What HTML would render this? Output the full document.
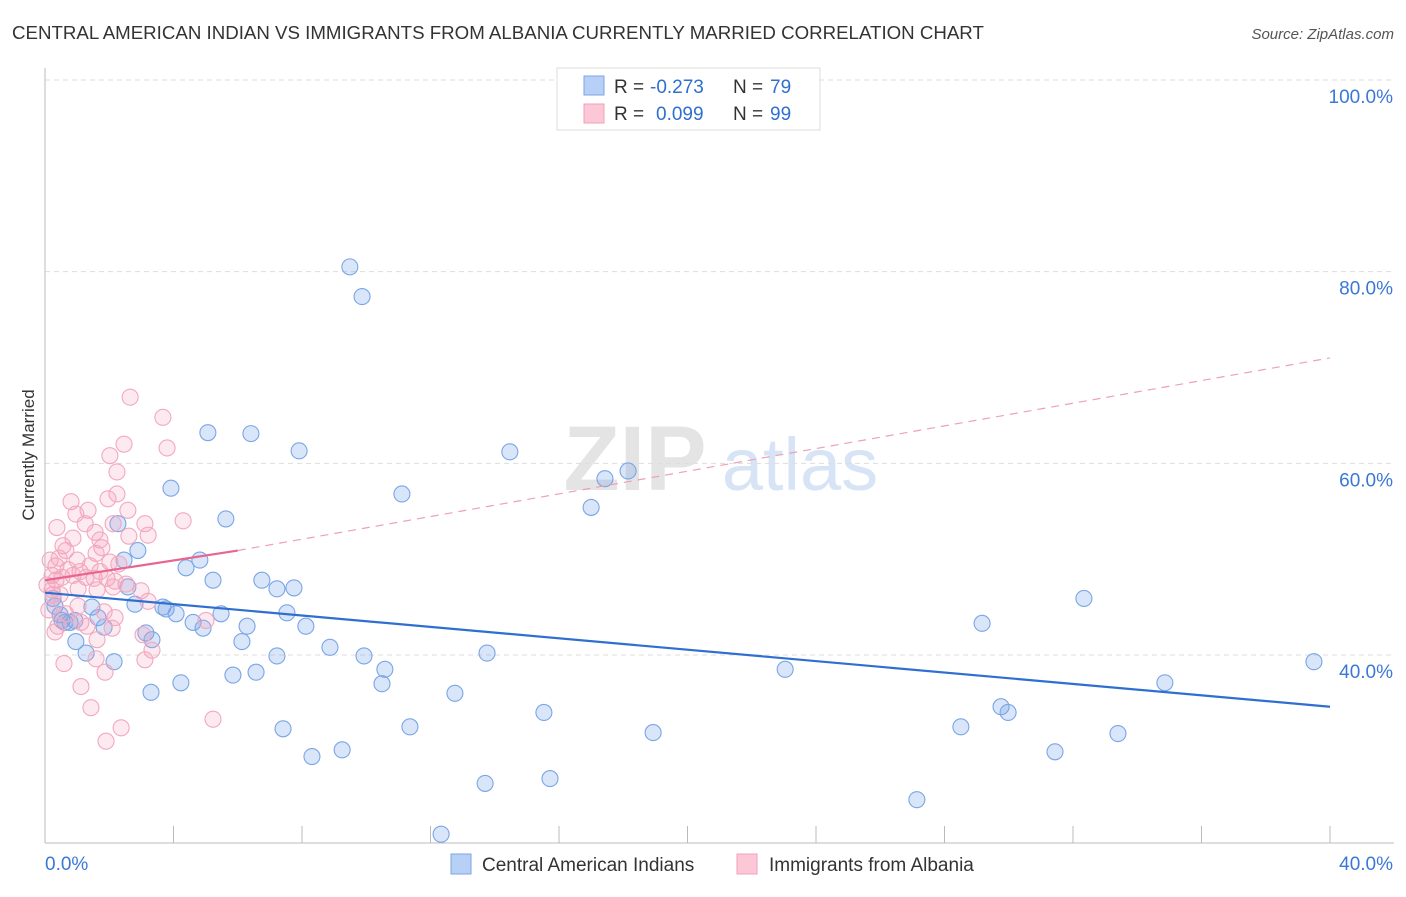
<!DOCTYPE html>
<html><head><meta charset="utf-8"><style>
body{margin:0;background:#fff;font-family:"Liberation Sans",sans-serif;}
svg text{font-family:"Liberation Sans",sans-serif;}
</style></head><body>
<svg id="chart" width="1406" height="892" viewBox="0 0 1406 892" xmlns="http://www.w3.org/2000/svg">
<text x="12" y="39" font-size="18.7" fill="#333">CENTRAL AMERICAN INDIAN VS IMMIGRANTS FROM ALBANIA CURRENTLY MARRIED CORRELATION CHART</text>
<text x="1394" y="39" font-size="15" fill="#555" text-anchor="end" font-style="italic">Source: ZipAtlas.com</text>
<text x="34" y="455" font-size="17" fill="#333" text-anchor="middle" transform="rotate(-90 34 455)">Currently Married</text>
<g>
<text x="635" y="490" font-size="92" fill="#e4e4e4" text-anchor="middle" font-family="Liberation Serif" font-weight="bold">ZIP</text>
<text x="800" y="490" font-size="74" fill="#d6e4f5" text-anchor="middle">atlas</text>
</g>
<g id="grid"></g>
<g id="axes"></g>
<g id="blue-pts"></g>
<g id="pink-pts"></g>
<g id="trends"></g>
<g>
<rect x="557" y="68" width="263" height="62" fill="#fff" stroke="#ddd"/>
<rect x="584" y="76" width="20" height="19" fill="#b8d0f5" stroke="#7aa6e6"/>
<rect x="584" y="104" width="20" height="19" fill="#fcc8d8" stroke="#f0a0b8"/>
<text x="614" y="93" font-size="19" fill="#333">R =</text>
<text x="650" y="93" font-size="19" fill="#2e6fd0">-0.273</text>
<text x="733" y="93" font-size="19" fill="#333">N =</text>
<text x="770" y="93" font-size="19" fill="#2e6fd0">79</text>
<text x="614" y="120" font-size="19" fill="#333">R =</text>
<text x="656" y="120" font-size="19" fill="#2e6fd0">0.099</text>
<text x="733" y="120" font-size="19" fill="#333">N =</text>
<text x="770" y="120" font-size="19" fill="#2e6fd0">99</text>
</g>
<g>
<rect x="451" y="854" width="20" height="20" fill="#b8d0f5" stroke="#7aa6e6"/>
<text x="482" y="871" font-size="19" fill="#333">Central American Indians</text>
<rect x="737" y="854" width="20" height="20" fill="#fcc8d8" stroke="#f0a0b8"/>
<text x="769" y="871" font-size="19" fill="#333">Immigrants from Albania</text>
</g>
</svg>
<script>
const blueX=[9.49,9.87,5.07,6.41,7.91,14.47,3.92,11.11,17.43,18.15,17.0,5.63,2.27,2.89,4.82,2.46,4.39,5.23,6.75,7.22,7.75,2.58,0.25,2.80,3.67,3.77,4.08,1.46,5.48,7.53,8.12,0.53,0.78,1.65,4.61,4.92,6.29,1.84,3.14,3.33,6.13,8.87,0.96,1.28,2.15,7.22,9.93,13.76,10.58,10.49,4.23,3.30,5.85,6.57,12.76,15.53,11.36,7.41,18.93,9.25,8.31,13.70,15.72,12.33,23.04,29.17,32.34,39.50,34.86,29.76,29.98,28.51,31.44,33.40,27.14,0.47,0.31,0.62,0.93];
const blueY=[80.5,77.4,63.2,63.1,61.3,61.2,57.4,56.8,58.4,59.2,55.4,54.2,53.7,50.9,49.9,49.9,49.1,47.8,47.8,46.9,47.0,47.1,45.9,45.3,45.0,44.8,44.3,45.0,44.3,44.4,43.0,43.6,43.4,43.9,43.4,42.8,43.0,42.9,42.3,41.6,41.4,40.8,41.4,40.2,39.3,39.9,39.9,40.2,38.5,37.0,37.1,36.1,37.9,38.2,36.0,34.0,32.5,32.3,31.9,30.1,29.4,26.6,27.1,21.3,38.5,43.3,45.9,39.3,37.1,34.6,34.0,32.5,29.9,31.8,24.9,44.2,45.1,43.4,43.6];
const pinkX=[2.65,3.67,2.46,3.80,2.02,2.24,2.24,1.96,0.81,1.34,2.58,0.96,4.30,0.37,1.25,2.12,3.11,3.21,2.61,1.56,0.87,1.71,0.56,0.65,1.77,1.59,0.44,1.0,2.02,0.34,1.40,2.30,0.72,1.09,1.71,0.22,0.53,0.87,1.28,1.53,0.34,1.93,2.18,0.06,2.52,1.03,1.62,2.12,2.99,0.25,3.21,1.03,1.84,0.65,2.18,1.12,5.01,0.40,1.31,2.09,0.31,3.05,1.62,3.33,0.59,1.59,3.11,1.87,1.12,1.43,5.23,2.37,1.90,0.16,0.22,0.12,0.47];
const pinkY=[66.9,64.8,62.0,61.6,60.8,59.1,56.8,56.3,56.0,55.1,55.1,54.7,54.0,53.3,53.7,53.7,53.7,52.5,52.4,52.8,52.2,52.0,51.4,50.9,51.2,50.6,50.1,49.9,49.7,49.3,49.3,49.5,48.9,48.7,48.7,48.3,48.1,48.3,48.1,48.0,47.8,48.0,47.7,47.3,47.4,46.9,46.8,47.1,46.7,46.3,45.6,45.1,44.5,44.3,43.9,43.4,43.6,43.0,43.0,42.8,42.4,42.1,41.6,40.5,39.1,39.6,39.5,38.2,36.7,34.5,33.3,32.4,31.0,49.9,46.8,44.7,46.3];
const blueTrendX=[0,40], blueTrendY=[46.5,34.6];
const pinkTrendX=[0,6], pinkTrendY=[47.8,50.9];
const pinkDashX=[6,40], pinkDashY=[50.9,71.0];
const yTicks=[100,80,60,40];
const yTickLabels=["100.0%","80.0%","60.0%","40.0%"];
const xTicks=[0,4,8,12,16,20,24,28,32,36,40];

const NS="http://www.w3.org/2000/svg";
const X0=45,X1=1330,YB=843;
const sx=v=>X0+(X1-X0)*v/40;
const sy=v=>80+(100-v)*9.583;
function mk(tag,attrs,parent){const e=document.createElementNS(NS,tag);for(const k in attrs)e.setAttribute(k,attrs[k]);document.getElementById(parent).appendChild(e);return e;}
yTicks.forEach((t,i)=>{
 const l=mk('line',{x1:X0,x2:1394,y1:sy(t),y2:sy(t),stroke:'#ddd','stroke-dasharray':'5,4'},'grid');
 
 
 const tx=mk('text',{x:1393,y:sy(t)+23,'font-size':19,fill:'#3b78d6','text-anchor':'end'},'grid');
 tx.textContent=yTickLabels[i];
 
 
});
let ax=mk('line',{x1:X0,x2:1394,y1:YB,y2:YB,stroke:'#bbb'},'axes');


let ay=mk('line',{x1:X0,x2:X0,y1:68,y2:YB,stroke:'#bbb'},'axes');


xTicks.forEach(t=>{
 const l=mk('line',{x1:sx(t),x2:sx(t),y1:826,y2:YB,stroke:'#bbb'},'axes');
 
 
});
let xl=mk('text',{x:45,y:870,'font-size':19,fill:'#3b78d6'},'axes');xl.textContent='0.0%';


let xr=mk('text',{x:1393,y:870,'font-size':19,fill:'#3b78d6','text-anchor':'end'},'axes');xr.textContent='40.0%';


blueX.forEach((v,i)=>{
 const c=mk('circle',{cx:sx(v),cy:sy(blueY[i]),r:8,fill:'rgba(120,160,230,0.28)',stroke:'#7aa6e6','stroke-width':1.1},'blue-pts');
 
 
});
pinkX.forEach((v,i)=>{
 const c=mk('circle',{cx:sx(v),cy:sy(pinkY[i]),r:8,fill:'rgba(245,160,185,0.22)',stroke:'#f2a8bf','stroke-width':1.1},'pink-pts');
 
 
});
let bt=mk('line',{x1:sx(blueTrendX[0]),y1:sy(blueTrendY[0]),x2:sx(blueTrendX[1]),y2:sy(blueTrendY[1]),stroke:'#2e6fd0','stroke-width':2.2},'trends');


let pt=mk('line',{x1:sx(pinkTrendX[0]),y1:sy(pinkTrendY[0]),x2:sx(pinkTrendX[1]),y2:sy(pinkTrendY[1]),stroke:'#e8658f','stroke-width':2.2},'trends');


let pd=mk('line',{x1:sx(pinkDashX[0]),y1:sy(pinkDashY[0]),x2:sx(pinkDashX[1]),y2:sy(pinkDashY[1]),stroke:'#eea0b8','stroke-width':1.2,'stroke-dasharray':'8,6'},'trends');


</script>
</body></html>
